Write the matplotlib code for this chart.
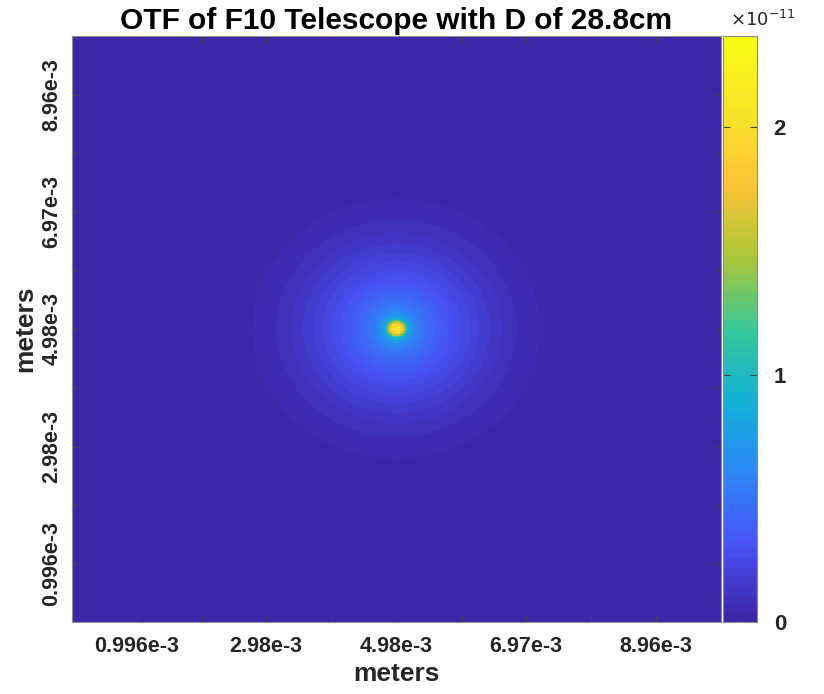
import numpy as np
import matplotlib
matplotlib.use("Agg")
import matplotlib.pyplot as plt
from matplotlib.colors import LinearSegmentedColormap, ListedColormap

# ---------------- data ----------------
# radial profile of the OTF, radius from the centre (metres) and value
radius_m = [0.0, 0.06e-3, 0.09e-3, 0.12e-3, 0.15e-3, 0.18e-3, 0.24e-3, 0.32e-3,
            0.45e-3, 0.60e-3, 0.75e-3, 0.91e-3, 1.09e-3, 1.26e-3, 1.43e-3,
            1.60e-3, 1.83e-3, 2.00e-3, 2.21e-3, 2.22e-3]
otf_value = [2.10e-11, 2.00e-11, 1.85e-11, 1.50e-11, 1.10e-11, 0.85e-11, 0.68e-11,
             0.57e-11, 0.48e-11, 0.40e-11, 0.34e-11, 0.28e-11, 0.235e-11,
             0.19e-11, 0.15e-11, 0.115e-11, 0.076e-11, 0.055e-11, 0.037e-11, 0.0]
centre_m = [4.98e-3, 4.98e-3]
extent_m = [0.0, 9.96e-3]
n_pixels = 400
vmax = 2.37e-11

tick_vals = [0.996e-3, 1.99e-3, 2.98e-3, 3.98e-3, 4.98e-3, 5.98e-3, 6.97e-3, 7.97e-3, 8.96e-3]
tick_labels = ["0.996e-3", "", "2.98e-3", "", "4.98e-3", "", "6.97e-3", "", "8.96e-3"]
cbar_ticks = [0.0, 1e-11, 2e-11]
cbar_tick_labels = ["0", "1", "2"]
cbar_exponent = r"$\times10^{-11}$"

title = "OTF of F10 Telescope with D of 28.8cm"
xlabel = "meters"
ylabel = "meters"

# ---------------- parula-like colormap (64 levels) ----------------
parula_anchor = [
    (0.000, (0.2422, 0.1504, 0.6603)),
    (0.125, (0.2810, 0.3228, 0.9579)),
    (0.250, (0.1786, 0.5289, 0.9682)),
    (0.375, (0.0689, 0.6948, 0.8394)),
    (0.500, (0.2161, 0.7843, 0.5923)),
    (0.625, (0.6720, 0.7793, 0.2227)),
    (0.750, (0.9970, 0.7659, 0.2199)),
    (0.875, (0.9657, 0.8932, 0.1547)),
    (1.000, (0.9769, 0.9839, 0.0805)),
]
base = LinearSegmentedColormap.from_list("parula_base", parula_anchor)
parula = ListedColormap(base(np.linspace(0, 1, 64)), name="parula64")

# ---------------- build image ----------------
coords = np.linspace(extent_m[0], extent_m[1], n_pixels)
X, Y = np.meshgrid(coords, coords)
R = np.hypot(X - centre_m[0], Y - centre_m[1])
Z = np.interp(R, radius_m, otf_value, right=0.0)

# ---------------- figure ----------------
plt.rcParams['font.family'] = ['Liberation Sans', 'DejaVu Sans']
txt_color = '#262626'
fig = plt.figure(figsize=(8.24, 6.94), dpi=100)
W, H = 824, 694
ax = fig.add_axes([72 / W, 1 - 622 / H, (721 - 72) / W, (622 - 36) / H])
cax = fig.add_axes([723 / W, 1 - 622 / H, (757 - 723) / W, (622 - 36) / H])

im = ax.imshow(Z, cmap=parula, vmin=0, vmax=vmax, origin='lower',
               extent=[extent_m[0], extent_m[1], extent_m[0], extent_m[1]],
               aspect='auto', interpolation='nearest')

ax.set_xticks(tick_vals)
ax.set_xticklabels(tick_labels)
ax.set_yticks(tick_vals)
ax.set_yticklabels(tick_labels, rotation=90, va='center')
ax.tick_params(direction='in', length=5, width=0.8, colors='#444444',
               top=True, right=True, labelsize=15.5)
ax.tick_params(axis='x', pad=10)
ax.tick_params(axis='y', pad=7)
for lab in ax.get_xticklabels() + ax.get_yticklabels():
    lab.set_fontweight('bold')
    lab.set_color(txt_color)
for s in ax.spines.values():
    s.set_color('#8c8c8c')
    s.set_linewidth(0.8)

ax.set_xlabel(xlabel, fontsize=19, fontweight='bold', color=txt_color, labelpad=4)
ax.set_ylabel(ylabel, fontsize=19, fontweight='bold', color=txt_color, labelpad=3)
ax.set_title(title, fontsize=21.5, fontweight='bold', color='black', pad=5)

cb = fig.colorbar(im, cax=cax, ticks=cbar_ticks)
cb.set_ticklabels(cbar_tick_labels)
cax.tick_params(direction='in', length=5, width=0.8, colors='#444444',
                left=True, right=True, labelsize=16, pad=12)
for lab in cax.get_yticklabels():
    lab.set_fontweight('bold')
    lab.set_color(txt_color)
cb.outline.set_edgecolor('#8c8c8c')
cb.outline.set_linewidth(0.8)
fig.text(730 / W, 1 - 20 / H, cbar_exponent, fontsize=13, color=txt_color,
         ha='left', va='center')

fig.savefig("out.png", dpi=100, facecolor='white')
